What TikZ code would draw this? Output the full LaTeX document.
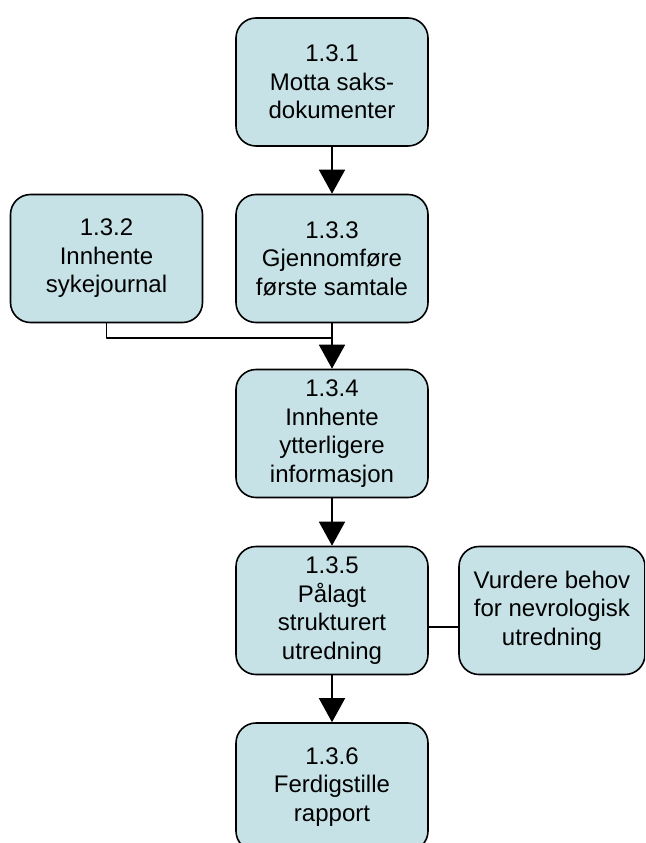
\documentclass[tikz,border=0pt]{standalone}
\usepackage{fontspec}
\setmainfont{Liberation Sans}
\usetikzlibrary{arrows.meta,positioning}
\definecolor{boxfill}{HTML}{C6E2E6}
\begin{document}
\begin{tikzpicture}[
	x=1pt,y=-1pt,
	>={Triangle[width=26pt,length=24pt]},
	line width=1.6pt,
	line join=round,
	task/.style={draw,fill=boxfill,rounded corners=20pt,minimum width=192pt,minimum height=128pt,inner sep=0pt,align=center,font=\fontsize{24}{28.5}\selectfont}
	]
	\useasboundingbox (0,0) rectangle (645,843);
	\clip (0,0) rectangle (645,843);
	\node[task] (n131) at (332,82) {1.3.1\\Motta saks-\\dokumenter};
	\node[task] (n132) at (106.5,258.5) {1.3.2\\Innhente\\sykejournal};
	\node[task] (n133) at (332,258.5) {1.3.3\\Gjennomføre\\første samtale};
	\node[task] (n134) at (332,433.5) {1.3.4\\Innhente\\ytterligere\\informasjon};
	\node[task] (n135) at (332,610.5) {1.3.5\\Pålagt\\strukturert\\utredning};
	\node[task,minimum width=186pt] (nevro) at (552,610.5) {Vurdere behov\\for nevrologisk\\utredning};
	\node[task] (n136) at (332,787) {1.3.6\\Ferdigstille\\rapport};
	\coordinate (join) at (332,338);
	\draw[->] (n131) -- (n133);
	\draw (n132) |- (join);
	\draw[->] (n133) -- (n134);
	\draw[->] (n134) -- (n135);
	\draw (n135.east |- 0,627) -- (nevro.west |- 0,627);
	\draw[->] (n135) -- (n136);
\end{tikzpicture}
\end{document}
